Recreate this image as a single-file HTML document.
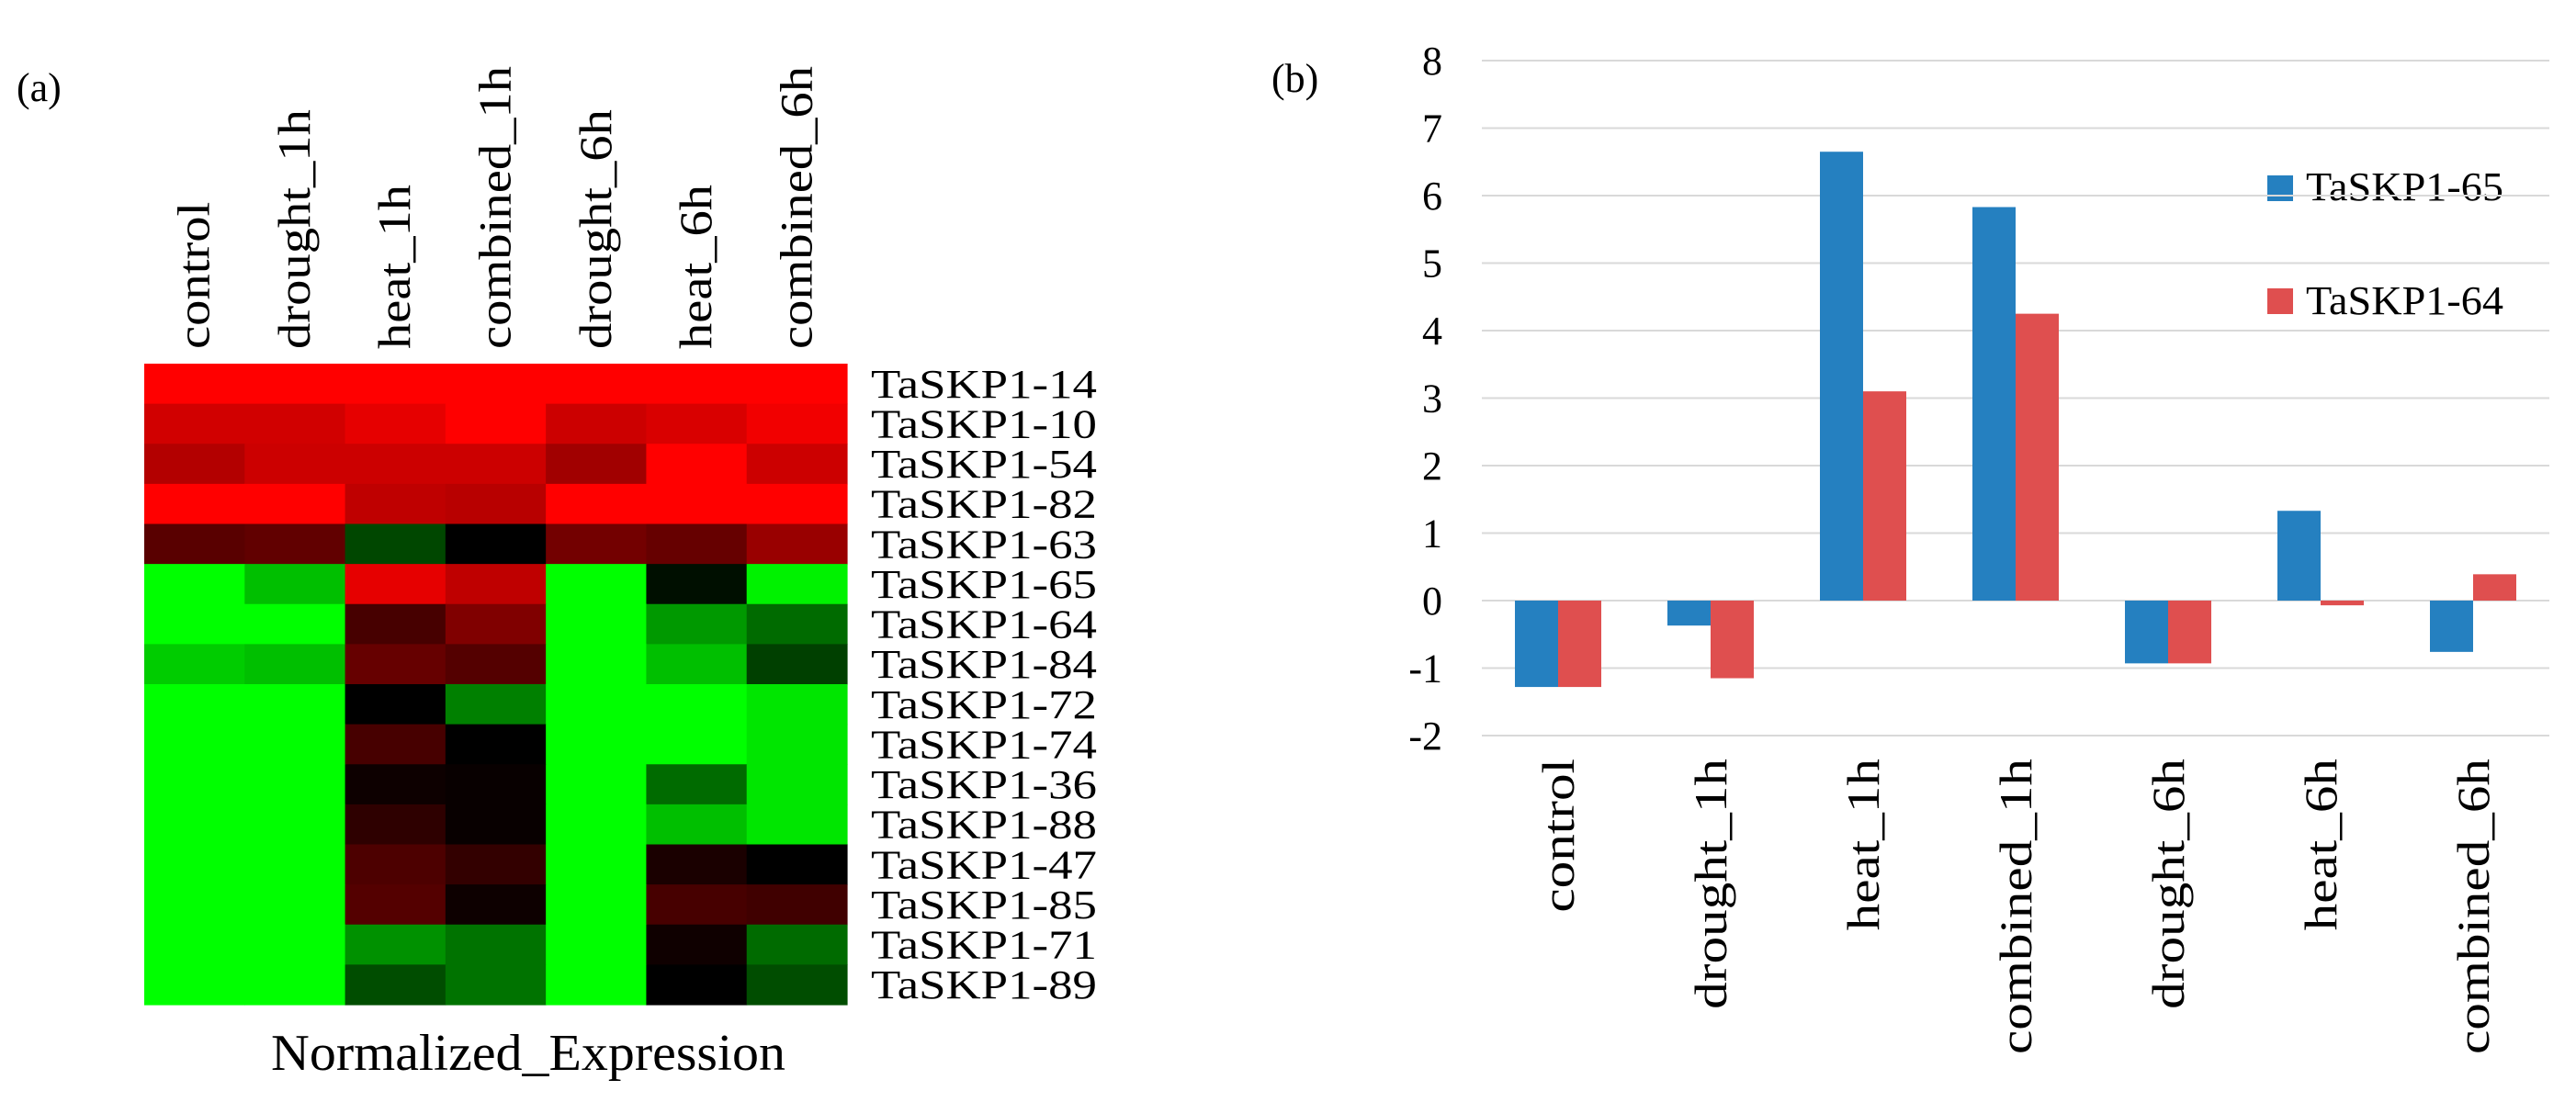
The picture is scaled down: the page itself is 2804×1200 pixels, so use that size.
<!DOCTYPE html>
<html><head><meta charset="utf-8">
<style>
html,body{margin:0;padding:0;background:#fff;overflow:hidden;}
svg{display:block;font-family:"Liberation Serif",serif;}
</style></head>
<body>
<svg id="fig" width="2804" height="1200" viewBox="0 0 2804 1200" xmlns="http://www.w3.org/2000/svg">
<rect x="0" y="0" width="2804" height="1200" fill="#fff"/>
<g id="heat">
<text x="18" y="110" font-size="44">(a)</text>
<text x="295" y="1165" font-size="56" textLength="560" lengthAdjust="spacingAndGlyphs">Normalized_Expression</text>
</g>
<g id="bars">
<text x="1384" y="100" font-size="44">(b)</text>
<rect x="2468" y="191" width="28" height="28" fill="#2580c0"/>
<text x="2510" y="218" font-size="44" textLength="215" lengthAdjust="spacingAndGlyphs">TaSKP1-65</text>
<rect x="2468" y="314" width="28" height="28" fill="#df4f4f"/>
<text x="2510" y="342" font-size="44" textLength="215" lengthAdjust="spacingAndGlyphs">TaSKP1-64</text>
</g>
</svg>
<script>
const conditions = ["control","drought_1h","heat_1h","combined_1h","drought_6h","heat_6h","combined_6h"];
const genes = ["TaSKP1-14","TaSKP1-10","TaSKP1-54","TaSKP1-82","TaSKP1-63","TaSKP1-65","TaSKP1-64","TaSKP1-84","TaSKP1-72","TaSKP1-74","TaSKP1-36","TaSKP1-88","TaSKP1-47","TaSKP1-85","TaSKP1-71","TaSKP1-89"];
const heatValues = [
[1,1,1,1,1,1,1],
[0.82,0.82,0.9,1,0.8,0.85,0.95],
[0.7,0.8,0.8,0.8,0.63,1,0.8],
[1,1,0.75,0.72,1,1,1],
[0.35,0.38,-0.28,0,0.45,0.4,0.6],
[-1,-0.75,0.9,0.75,-1,-0.06,-0.95],
[-1,-1,0.28,0.5,-1,-0.6,-0.42],
[-0.8,-0.75,0.4,0.33,-1,-0.75,-0.25],
[-1,-1,0,-0.5,-1,-1,-0.9],
[-1,-1,0.28,0,-1,-1,-0.9],
[-1,-1,0.05,0.03,-1,-0.42,-0.9],
[-1,-1,0.18,0.03,-1,-0.75,-0.9],
[-1,-1,0.3,0.2,-1,0.1,0],
[-1,-1,0.33,0.05,-1,0.28,0.25],
[-1,-1,-0.57,-0.45,-1,0.06,-0.42],
[-1,-1,-0.3,-0.45,-1,0,-0.3]
];
const seriesA = [-1.28,-0.37,6.65,5.83,-0.93,1.33,-0.76];
const seriesB = [-1.28,-1.15,3.1,4.25,-0.93,-0.07,0.39];
const yTicks = [-2,-1,0,1,2,3,4,5,6,7,8];

const NS="http://www.w3.org/2000/svg";
function mk(tag,attrs,parent,txt){const e=document.createElementNS(NS,tag);for(const k in attrs)e.setAttribute(k,attrs[k]);if(txt!==undefined)e.textContent=txt;parent.appendChild(e);return e;}
function stretch(els,ref,target){
  const refEl=els[ref];const k=target/refEl.getComputedTextLength();
  els.forEach(e=>{e.setAttribute('textLength',(e.getComputedTextLength()*k).toFixed(1));e.setAttribute('lengthAdjust','spacingAndGlyphs');});
}

// heatmap
const hg=document.getElementById('heat');
const hx0=157,hx1=922,hy0=396,hy1=1094;
const cw=(hx1-hx0)/conditions.length, ch=(hy1-hy0)/genes.length;
function col(v){const r=v>0?Math.round(v*255):0;const g=v<0?Math.round(-v*255):0;return `rgb(${r},${g},0)`;}
heatValues.forEach((row,i)=>{row.forEach((v,j)=>{
 const c=mk('rect',{x:hx0+j*cw,y:hy0+i*ch,width:cw+0.6,height:ch+0.6,fill:col(v)},hg);
 
 
});});
const rowLabels=[];
genes.forEach((g,i)=>{
 const t=mk('text',{x:948,y:hy0+(i+0.5)*ch+15,'font-size':44},hg,g);
 
 
 rowLabels.push(t);
});
stretch(rowLabels,0,246);
const colLabels=[];
conditions.forEach((c,j)=>{
 const x=hx0+(j+0.5)*cw+16;
 const t=mk('text',{x:x,y:380,'font-size':50,transform:`rotate(-90 ${x} 380)`},hg,c);
 
 
 colLabels.push(t);
});
stretch(colLabels,3,308);

// bar chart
const bg=document.getElementById('bars');
const px0=1613,px1=2775,yTop=66,yBot=801,vMin=-2,vMax=8;
function yS(v){return yBot-(v-vMin)/(vMax-vMin)*(yBot-yTop);}
const catW=(px1-px0)/conditions.length, bw=47;
yTicks.forEach(t=>{
 const l=mk('line',{x1:px0,x2:px1,y1:yS(t),y2:yS(t),stroke:'#d9d9d9','stroke-width':2},bg);
 
 
 const tx=mk('text',{x:1570,y:yS(t)+15,'font-size':44,'text-anchor':'end'},bg,String(t));
 
 
});
function bar(v,x,fill){const y=Math.min(yS(v),yS(0));const h=Math.abs(yS(v)-yS(0));
 return mk('rect',{x:x,y:y,width:bw,height:h,fill:fill},bg);}
const xLabels=[];
conditions.forEach((c,j)=>{
 const cx=px0+(j+0.5)*catW;
 const a=bar(seriesA[j],cx-bw,'#2580c0');
 
 
 const b=bar(seriesB[j],cx,'#df4f4f');
 
 
 const lx=cx+17;
 const t=mk('text',{x:lx,y:826,'font-size':50,'text-anchor':'end',transform:`rotate(-90 ${lx} 826)`},bg,c);
 
 
 xLabels.push(t);
});
stretch(xLabels,3,322);
</script>
</body></html>
